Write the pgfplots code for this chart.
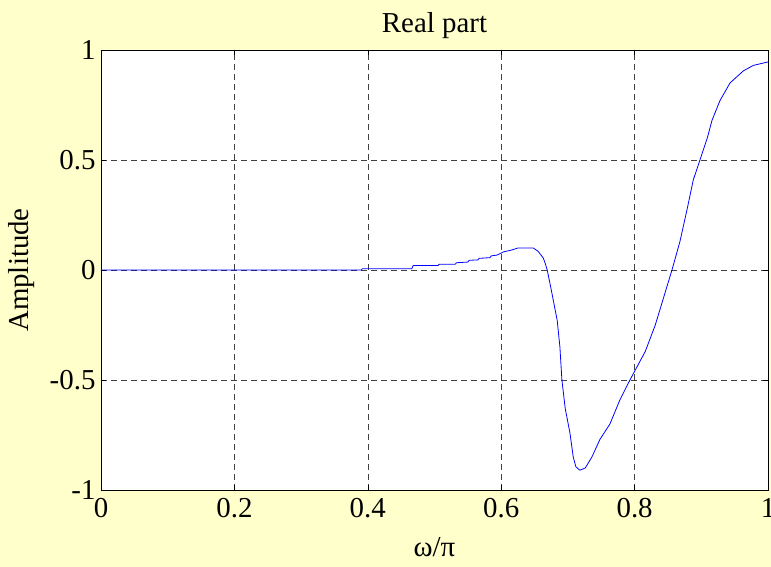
\documentclass[border=0pt]{standalone}
\usepackage{pgfplots}
\pgfplotsset{compat=1.18}
\usepackage{fontspec}
\setmainfont{Liberation Serif}
\definecolor{figbg}{RGB}{255,255,204}
\definecolor{curve}{RGB}{0,0,255}

\begin{document}
\begin{tikzpicture}[x=1bp,y=1bp]
% figure background (MATLAB style)
\fill[figbg] (-101,-77) rectangle (670,490);
\begin{axis}[
    at={(0,0)}, anchor=south west,
    width=667bp, height=440bp, scale only axis,
    xmin=0, xmax=1, ymin=-1, ymax=1,
    xtick={0,0.2,...,1}, ytick={-1,-0.5,0,0.5,1},
    xticklabels={0,0.2,0.4,0.6,0.8,1},
    yticklabels={-1,-0.5,0,0.5,1},
    tick align=inside, tick pos=both,
    major tick length=5bp,
    grid=major,
    major grid style={black!75, line width=0.5bp, dash pattern=on 6bp off 4bp},
    axis line style={black, line width=0.6bp},
    axis background/.style={fill=white},
    every tick/.style={black, line width=0.5bp},
    /pgf/number format/assume math mode=true,
    tick label style={font=\fontsize{29}{34}\selectfont},
    xticklabel style={yshift=-5bp},
    yticklabel style={xshift=-2bp},
    label style={font=\fontsize{29}{34}\selectfont},
    title style={font=\fontsize{29}{34}\selectfont, yshift=2bp},
    title={Real part},
    xlabel={ω/π}, ylabel={Amplitude},
    xlabel style={yshift=-12bp},
    ylabel style={yshift=8bp},
]
\addplot[curve, line width=0.8bp] coordinates {
    (0,0) (0.39,0) (0.392,0.006) (0.466,0.006) (0.468,0.02)
    (0.505,0.02) (0.507,0.026) (0.531,0.026) (0.533,0.033)
    (0.55,0.036) (0.552,0.044) (0.565,0.046) (0.567,0.053)
    (0.583,0.056) (0.585,0.064) (0.594,0.068) (0.6,0.077)
    (0.603,0.082) (0.616,0.091) (0.625,0.10) (0.648,0.10)
    (0.655,0.086) (0.663,0.055) (0.666,0.03) (0.669,0)
    (0.676,-0.105) (0.684,-0.23) (0.688,-0.35) (0.691,-0.5)
    (0.696,-0.63) (0.703,-0.74) (0.708,-0.85) (0.712,-0.895)
    (0.718,-0.91) (0.726,-0.90) (0.736,-0.85) (0.748,-0.77)
    (0.763,-0.70) (0.778,-0.59) (0.793,-0.50) (0.816,-0.37)
    (0.831,-0.25) (0.843,-0.13) (0.856,0) (0.868,0.13)
    (0.879,0.28) (0.888,0.41) (0.898,0.5) (0.909,0.60)
    (0.916,0.68) (0.928,0.77) (0.943,0.85) (0.963,0.905)
    (0.978,0.93) (0.999,0.945) (1,0.945)
};
\end{axis}
\pgfresetboundingbox
\path[use as bounding box] (-101,-77) rectangle (670,490);
\end{tikzpicture}
\end{document}
